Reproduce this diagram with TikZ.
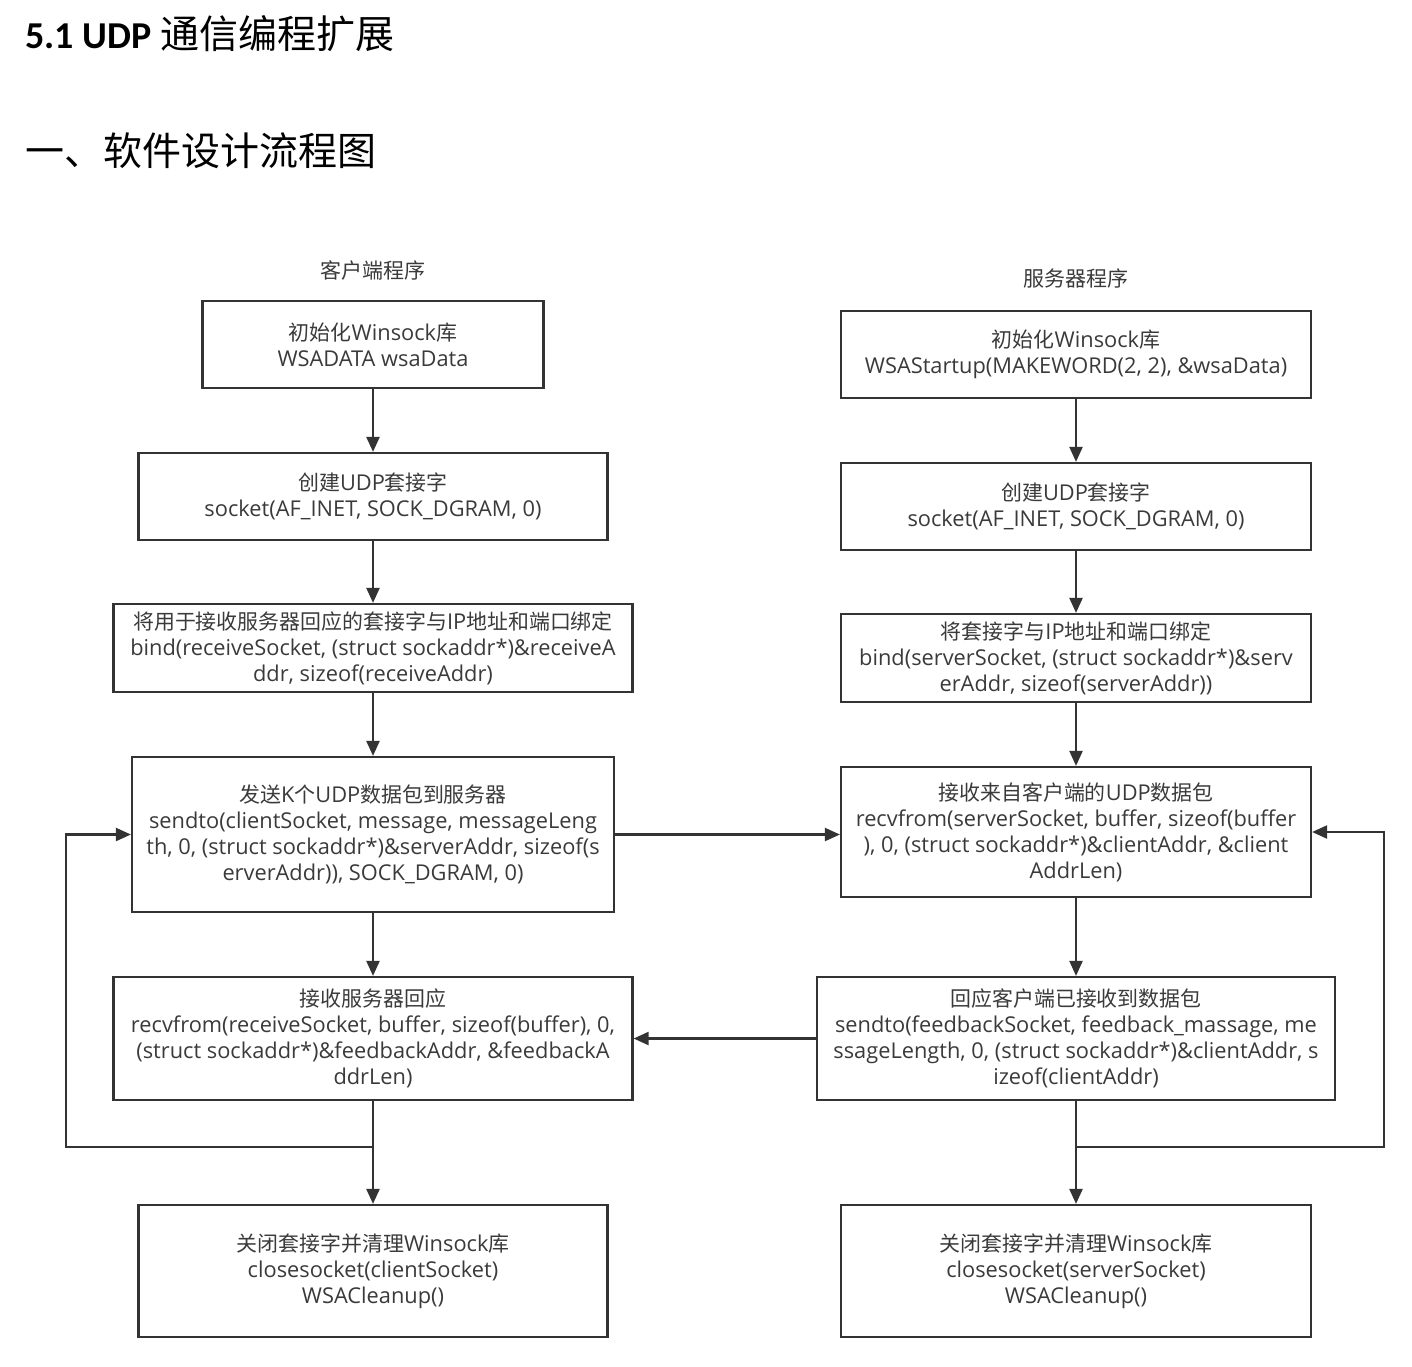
\documentclass[tikz,border=0pt]{standalone}
\usepackage{fontspec}
\setmainfont{Open Sans}
\newfontfamily\cjk[Scale=0.96]{Noto Sans CJK SC}
\newfontfamily\cjkfull{Noto Sans CJK SC}
\newfontfamily\titlelatin{Carlito}
\usetikzlibrary{arrows.meta}
\newcommand{\zh}[1]{{\cjk #1}}
\definecolor{ink}{HTML}{333333}
\definecolor{txt}{HTML}{3A3A3A}
\begin{document}
\begin{tikzpicture}[x=1pt,y=-1pt,
  box/.style={draw=ink, line width=2.2pt, rectangle, inner sep=0pt, align=center,
    text=txt, font=\fontsize{21.8}{26}\selectfont},
  arr/.style={draw=ink, line width=2.2pt, -{Triangle[length=15pt,width=13pt]}},
  lab/.style={text=txt, font=\cjkfull\fontsize{21}{24}\selectfont}]
\useasboundingbox (0,0) rectangle (1412,1366);
% headings
\node[anchor=base west, inner sep=0pt, text=black] (title) at (25,48)
  {\titlelatin\bfseries\fontsize{38}{42}\selectfont 5.1 UDP {\cjkfull\fontsize{39}{42}\selectfont\mdseries 通信编程扩展}};
\node[anchor=base west, inner sep=0pt, text=black] (sub) at (25,165)
  {\cjkfull\fontsize{39}{42}\selectfont 一、软件设计流程图};
% column labels
\node[lab] (cl) at (373,270) {客户端程序};
\node[lab] (sl) at (1076,278) {服务器程序};
% client
\node[box, minimum width=341pt, minimum height=87pt] (b1) at (373,344.5)
  {\zh{初始化}Winsock\zh{库}\\WSADATA wsaData};
\node[box, minimum width=469pt, minimum height=87pt] (b2) at (373,496.5)
  {\zh{创建}UDP\zh{套接字}\\socket(AF\_INET, SOCK\_DGRAM, 0)};
\node[box, minimum width=519pt, minimum height=88pt] (b3) at (373,648)
  {\zh{将用于接收服务器回应的套接字与}IP\zh{地址和端口绑定}\\bind(receiveSocket, (struct sockaddr*)\&receiveA\\ddr, sizeof(receiveAddr)};
\node[box, minimum width=482pt, minimum height=155pt] (b4) at (373,834.5)
  {\zh{发送}K\zh{个}UDP\zh{数据包到服务器}\\sendto(clientSocket, message, messageLeng\\th, 0, (struct sockaddr*)\&serverAddr, sizeof(s\\erverAddr)), SOCK\_DGRAM, 0)};
\node[box, minimum width=519pt, minimum height=123pt] (b5) at (373,1038.5)
  {\zh{接收服务器回应}\\recvfrom(receiveSocket, buffer, sizeof(buffer), 0,\\(struct sockaddr*)\&feedbackAddr, \&feedbackA\\ddrLen)};
\node[box, minimum width=469pt, minimum height=132pt] (b6) at (373,1271)
  {\zh{关闭套接字并清理}Winsock\zh{库}\\closesocket(clientSocket)\\WSACleanup()};
% server
\node[box, minimum width=470pt, minimum height=87pt] (r1) at (1076,354.5)
  {\zh{初始化}Winsock\zh{库}\\WSAStartup(MAKEWORD(2, 2), \&wsaData)};
\node[box, minimum width=470pt, minimum height=87pt] (r2) at (1076,506.5)
  {\zh{创建}UDP\zh{套接字}\\socket(AF\_INET, SOCK\_DGRAM, 0)};
\node[box, minimum width=470pt, minimum height=88pt] (r3) at (1076,658)
  {\zh{将套接字与}IP\zh{地址和端口绑定}\\bind(serverSocket, (struct sockaddr*)\&serv\\erAddr, sizeof(serverAddr))};
\node[box, minimum width=470pt, minimum height=130pt] (r4) at (1076,832)
  {\zh{接收来自客户端的}UDP\zh{数据包}\\recvfrom(serverSocket, buffer, sizeof(buffer\\), 0, (struct sockaddr*)\&clientAddr, \&client\\AddrLen)};
\node[box, minimum width=518pt, minimum height=123pt] (r5) at (1076,1038.5)
  {\zh{回应客户端已接收到数据包}\\sendto(feedbackSocket, feedback\_massage, me\\ssageLength, 0, (struct sockaddr*)\&clientAddr, s\\izeof(clientAddr)};
\node[box, minimum width=470pt, minimum height=132pt] (r6) at (1076,1271)
  {\zh{关闭套接字并清理}Winsock\zh{库}\\closesocket(serverSocket)\\WSACleanup()};
% vertical arrows
\draw[arr] (b1) -- (b2);
\draw[arr] (b2) -- (b3);
\draw[arr] (b3) -- (b4);
\draw[arr] (b4) -- (b5);
\draw[arr] (b5) -- (b6);
\draw[arr] (r1) -- (r2);
\draw[arr] (r2) -- (r3);
\draw[arr] (r3) -- (r4);
\draw[arr] (r4) -- (r5);
\draw[arr] (r5) -- (r6);
% cross arrows
\draw[arr] (b4.east) -- (b4.east -| r4.west);
\draw[arr] (r5.west) -- (b5.east);
% loops
\coordinate (jl) at (373,1147);
\coordinate (ll) at (66,1147);
\coordinate (jr) at (1076,1147);
\coordinate (rr) at (1384,1147);
\draw[arr] (b5.south) -- (jl) -- (ll) |- (b4.west);
\draw[arr] (r5.south) -- (jr) -- (rr) |- (r4.east);
\end{tikzpicture}
\end{document}
